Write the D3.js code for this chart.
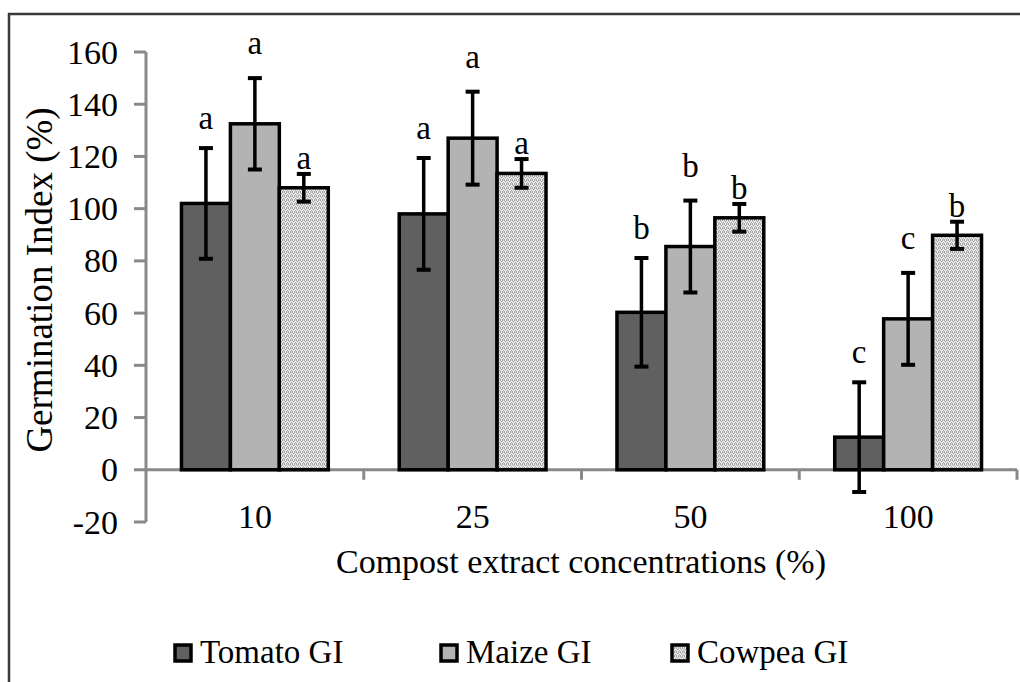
<!DOCTYPE html>
<html>
<head>
<meta charset="utf-8">
<script src="https://cdn.jsdelivr.net/npm/d3@7/dist/d3.min.js"></script>
<style>
  html, body { margin: 0; padding: 0; background: #fff; }
  svg { display: block; font-family: "Liberation Serif", "Times New Roman", serif; }
</style>
</head>
<body>
<svg id="chart" width="1020" height="682"></svg>
<script>
// ---- data ----
const categories = ["10", "25", "50", "100"];
const seriesNames = ["Tomato GI", "Maize GI", "Cowpea GI"];
const tomatoGI = [102, 98, 60.3, 12.5];
const maizeGI = [132.5, 127, 85.5, 57.8];
const cowpeaGI = [108, 113.5, 96.5, 89.8];
const tomatoErr = [21.2, 21.4, 20.8, 21];
const maizeErr = [17.5, 17.8, 17.6, 17.6];
const cowpeaErr = [5.3, 5.5, 5.3, 5.2];
const tomatoLetters = ["a", "a", "b", "c"];
const maizeLetters = ["a", "a", "b", "c"];
const cowpeaLetters = ["a", "a", "b", "b"];
const yTicks = [-20, 0, 20, 40, 60, 80, 100, 120, 140, 160];

const seriesData = [
  { name: seriesNames[0], values: tomatoGI, err: tomatoErr, letters: tomatoLetters },
  { name: seriesNames[1], values: maizeGI, err: maizeErr, letters: maizeLetters },
  { name: seriesNames[2], values: cowpeaGI, err: cowpeaErr, letters: cowpeaLetters }
];

// ---- styles ----
const fills = ["#606060", "#b3b3b3", "url(#cowpeaPat)"];
const letterOffset = [19, 24, 5];
const axisColor = "#898989";

const svg = d3.select("#chart");

// pattern for cowpea (fine grey texture)
const defs = svg.append("defs");
const pat = defs.append("pattern").attr("id", "cowpeaPat")
  .attr("patternUnits", "userSpaceOnUse").attr("width", 4).attr("height", 4);
pat.append("rect").attr("width", 4).attr("height", 4).attr("fill", "#d6d6d6");
const darkPix = [[0,0],[2,0],[1,1],[3,2],[0,3],[2,3]];
const lightPix = [[1,0],[3,1],[0,2],[2,2],[1,3]];
darkPix.forEach(p => pat.append("rect").attr("x", p[0]).attr("y", p[1]).attr("width", 1).attr("height", 1).attr("fill", "#a4a4a4"));
lightPix.forEach(p => pat.append("rect").attr("x", p[0]).attr("y", p[1]).attr("width", 1).attr("height", 1).attr("fill", "#f2f2f2"));

// outer frame (top & left visible)
svg.append("path").attr("d", "M9,682 V14 H1020")
  .attr("fill", "none").attr("stroke", "#3a3a3a").attr("stroke-width", 2.5);

// scales
const x0 = d3.scaleBand().domain(categories).range([146, 1017]).paddingInner(0).paddingOuter(0);
const x1 = d3.scaleBand().domain(seriesNames).range([0, x0.bandwidth()]).paddingInner(0).paddingOuter(0.725);
const y = d3.scaleLinear().domain([-20, 160]).range([522, 52]);

// x axis (at zero) drawn under bars
const xAxis = svg.append("g");
xAxis.append("line").attr("x1", x0.range()[0]).attr("x2", x0.range()[1])
  .attr("y1", y(0)).attr("y2", y(0))
  .attr("stroke", axisColor).attr("stroke-width", 3);
const boundaries = categories.map(c => x0(c)).concat([x0.range()[1]]).slice(1);
xAxis.selectAll(null).data(boundaries).enter().append("line")
  .attr("x1", d => d).attr("x2", d => d)
  .attr("y1", y(0)).attr("y2", y(0) + 10)
  .attr("stroke", axisColor).attr("stroke-width", 3);
xAxis.selectAll(null).data(categories).enter().append("text")
  .attr("x", d => x0(d) + x0.bandwidth() / 2)
  .attr("y", 528)
  .attr("text-anchor", "middle")
  .attr("font-size", 34)
  .text(d => d);

// bars
const g = svg.append("g");
seriesData.forEach((s, si) => {
  g.selectAll(null).data(s.values).enter().append("rect")
    .attr("x", (d, i) => x0(categories[i]) + x1(s.name))
    .attr("width", x1.bandwidth())
    .attr("y", d => y(Math.max(d, 0)))
    .attr("height", d => Math.abs(y(d) - y(0)))
    .attr("fill", fills[si])
    .attr("stroke", "#000").attr("stroke-width", 3.5);
});

// error bars + letters
seriesData.forEach((s, si) => {
  const eg = svg.append("g");
  s.values.forEach((v, i) => {
    const cx = x0(categories[i]) + x1(s.name) + x1.bandwidth() / 2;
    const top = y(v + s.err[i]);
    const bot = y(v - s.err[i]);
    eg.append("line").attr("x1", cx).attr("x2", cx).attr("y1", top).attr("y2", bot)
      .attr("stroke", "#000").attr("stroke-width", 3.5);
    [top, bot].forEach(yy => {
      eg.append("line").attr("x1", cx - 7).attr("x2", cx + 7).attr("y1", yy).attr("y2", yy)
        .attr("stroke", "#000").attr("stroke-width", 4);
    });
    eg.append("text").attr("x", cx).attr("y", top - letterOffset[si])
      .attr("text-anchor", "middle").attr("font-size", 33)
      .text(s.letters[i]);
  });
});

// y axis
const yAxis = svg.append("g");
yAxis.append("line").attr("x1", 146).attr("x2", 146)
  .attr("y1", y(160)).attr("y2", y(-20))
  .attr("stroke", axisColor).attr("stroke-width", 3);
yAxis.selectAll(null).data(yTicks).enter().append("line")
  .attr("x1", 134).attr("x2", 146)
  .attr("y1", d => y(d)).attr("y2", d => y(d))
  .attr("stroke", axisColor).attr("stroke-width", 3);
yAxis.selectAll(null).data(yTicks).enter().append("text")
  .attr("x", 118).attr("y", d => y(d))
  .attr("dy", "0.34em")
  .attr("text-anchor", "end")
  .attr("font-size", 34)
  .text(d => d);

// axis titles
svg.append("text")
  .attr("transform", "translate(52,280) rotate(-90)")
  .attr("text-anchor", "middle").attr("font-size", 37)
  .text("Germination Index (%)");
svg.append("text")
  .attr("x", 581).attr("y", 573)
  .attr("text-anchor", "middle").attr("font-size", 34)
  .text("Compost extract concentrations (%)");

// legend
const legendX = [175, 441, 672];
const leg = svg.append("g");
seriesNames.forEach((n, i) => {
  leg.append("rect").attr("x", legendX[i]).attr("y", 645)
    .attr("width", 16).attr("height", 16)
    .attr("fill", fills[i]).attr("stroke", "#000").attr("stroke-width", 3.5);
  leg.append("text").attr("x", legendX[i] + 25).attr("y", 663)
    .attr("font-size", 33).text(n);
});
</script>
</body>
</html>
